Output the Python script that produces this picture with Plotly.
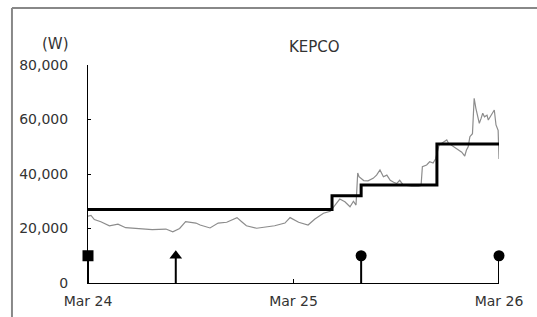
import pandas as pd
import plotly.graph_objects as go

# ---- data ----
base_date = "2024-03-24"
power_hours = [0.0, 0.35, 0.74, 1.5, 2.5, 3.5, 4.4, 6.0, 7.5, 9.1, 9.9, 10.7, 11.4, 12.6,
               13.1, 14.25, 15.2, 16.2, 17.4, 17.95, 18.5, 19.7, 20.7, 21.8, 23.0, 23.6,
               24.6, 25.7, 26.5, 27.5, 28.3, 28.85, 29.4, 30.0, 30.6, 31.0, 31.3, 31.5,
               31.65, 32.2, 32.7, 33.3, 33.7, 34.1, 34.5, 34.9, 35.3, 35.7, 36.05, 36.4,
               36.8, 37.8, 38.6, 38.9, 39.05, 39.55, 39.9, 40.3, 40.6, 41.0, 41.5, 41.9,
               42.1, 42.5, 42.9, 43.25, 43.65, 44.0, 44.2, 44.4, 44.6, 44.9, 45.1, 45.3,
               45.5, 45.7, 45.9, 46.1, 46.3, 46.6, 46.75, 46.95, 47.3, 47.45, 47.65, 47.9,
               48.0]
power_values = [24500, 24800, 23300, 22500, 21000, 21600, 20300, 19800, 19600, 19800, 18800,
                20000, 22500, 22000, 21300, 20200, 22000, 22300, 24000, 22500, 21000, 20100,
                20600, 21000, 22000, 24000, 22300, 21300, 23500, 25600, 26300, 28600, 30800,
                29800, 28000, 30000, 28600, 40400, 39000, 37600, 37500, 38400, 39600, 41500,
                39000, 39600, 37700, 37000, 36500, 37700, 36000, 35500, 35500, 35800, 42700,
                43300, 44500, 44000, 45600, 50600, 51500, 52500, 51300, 50500, 49800, 48800,
                48000, 46600, 48800, 50000, 53700, 54800, 67800, 64100, 61000, 58600, 60300,
                62300, 61000, 61600, 59800, 61000, 62900, 63500, 58000, 56000, 45500]

step_hours = [0.0, 28.5, 31.9, 40.75, 48.0]
step_values = [27000, 32000, 36000, 51000, 51000]

event_hours = [0.0, 10.25, 31.9, 48.0]
event_level = [10000, 10000, 10000, 10000]
event_symbols = ["square", "triangle-up", "circle", "circle"]

y_tickvals = [0, 20000, 40000, 60000, 80000]
y_ticktext = ["0", "20,000", "40,000", "60,000", "80,000"]
x_tick_days = ["2024-03-24", "2024-03-25", "2024-03-26"]
x_ticktext = ["Mar 24", "Mar 25", "Mar 26"]

title_text = "KEPCO"
unit_text = "(W)"

# ---- build ----
t0 = pd.Timestamp(base_date)
def to_time(hrs):
    return [t0 + pd.Timedelta(hours=h) for h in hrs]

power_t = to_time(power_hours)
step_t = to_time(step_hours)
event_t = to_time(event_hours)

stem_x, stem_y = [], []
for t, v in zip(event_t, event_level):
    stem_x += [t, t, None]
    stem_y += [0, v, None]

FONT = "DejaVu Sans"
TXT = "#333333"

fig = go.Figure()
fig.add_trace(go.Scatter(x=power_t, y=power_values, mode="lines",
                         line=dict(color="#8c8c8c", width=1.2), hoverinfo="skip"))
fig.add_trace(go.Scatter(x=step_t, y=step_values, mode="lines", line_shape="hv",
                         line=dict(color="black", width=3)))
fig.add_trace(go.Scatter(x=stem_x, y=stem_y, mode="lines",
                         line=dict(color="black", width=2)))
fig.add_trace(go.Scatter(x=event_t, y=event_level, mode="markers",
                         marker=dict(symbol=event_symbols, size=11, color="black",
                                     line=dict(width=0)), cliponaxis=False))

fig.update_layout(
    width=537, height=317,
    margin=dict(l=88, r=38, t=65, b=34, autoexpand=False),
    paper_bgcolor="white", plot_bgcolor="white",
    showlegend=False,
    font=dict(family=FONT, size=14, color=TXT),
)
fig.update_xaxes(type="date", range=[x_tick_days[0], x_tick_days[-1]],
                 tickvals=x_tick_days, ticktext=x_ticktext,
                 showline=True, linecolor="black", linewidth=1,
                 showgrid=False, zeroline=False,
                 ticks="inside", ticklen=4, tickcolor="black",
                 ticklabelstandoff=5,
                 tickfont=dict(family=FONT, size=14, color=TXT))
fig.update_yaxes(range=[0, 80000], tickvals=y_tickvals, ticktext=y_ticktext,
                 showline=True, linecolor="black", linewidth=1,
                 showgrid=False, zeroline=False,
                 ticks="inside", ticklen=3, tickcolor="black",
                 ticklabelstandoff=16,
                 tickfont=dict(family=FONT, size=14, color=TXT))

fig.add_annotation(text=title_text, xref="paper", yref="paper", x=0.55, y=1.0,
                   xanchor="center", yanchor="middle", yshift=18, showarrow=False,
                   font=dict(family=FONT, size=15, color=TXT))
fig.add_annotation(text=unit_text, xref="paper", yref="paper", x=0.0, y=1.0,
                   xanchor="right", yanchor="middle", yshift=21, xshift=-17,
                   showarrow=False, font=dict(family=FONT, size=15, color=TXT))

# outer frame (left and top edges visible)
fig.add_shape(type="line", xref="paper", yref="paper", x0=-0.185, x1=-0.185, y0=-1, y1=1.261,
              line=dict(color="#888888", width=2))
fig.add_shape(type="line", xref="paper", yref="paper", x0=-0.185, x1=2, y0=1.261, y1=1.261,
              line=dict(color="#888888", width=2))

fig.write_html("out.html", config={"displayModeBar": False},
               post_script="document.body.style.margin='0';document.body.style.overflow='hidden';")
